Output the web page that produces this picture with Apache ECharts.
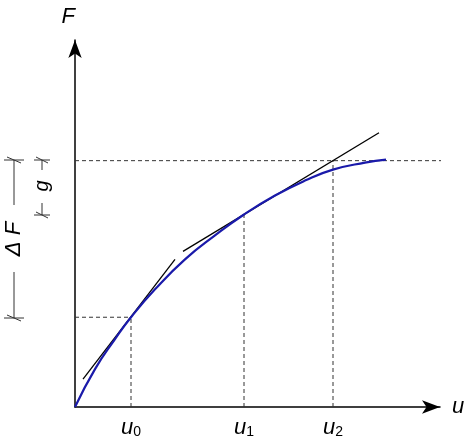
<!DOCTYPE html>
<html><head><meta charset="utf-8">
<script src="https://cdn.jsdelivr.net/npm/echarts@6/dist/echarts.min.js"></script>
<style>html,body{margin:0;background:#fff}#c{width:474px;height:439px}</style>
</head><body><div id="c"></div>
<script>
// curve F(u)
var curve = [[0,0],[20,38],[40,68],[56,90],[80,118],[110,148],[140,172],[169,193],[200,212],[230,227],[258,238],[290,245],[311,248]];
var tangent0 = [[8,28],[100,148]];
var tangent1 = [[108,156],[304,275]];
var uTicks = [56, 169, 258];
var uNames = ['0', '1', '2'];
var F0 = 90, F1 = 193, Fg = 247;

var dash = {color: '#333', width: 1, type: [4, 3]};
function dashed(pts) {
  return {type: 'line', data: pts, showSymbol: false, silent: true, lineStyle: dash, z: 1};
}

var chart = echarts.init(document.getElementById('c'));
chart.setOption({
  animation: false,
  grid: {left: 75, right: 34, top: 40, bottom: 31},
  xAxis: {
    type: 'value', min: 0, max: 365,
    axisLine: {lineStyle: {color: '#000', width: 1.5}, symbol: ['none', 'arrow'], symbolSize: [10, 18]},
    axisTick: {show: false}, splitLine: {show: false},
    name: 'u', nameGap: 12,
    nameTextStyle: {fontSize: 22, fontStyle: 'italic', color: '#000', fontFamily: 'Liberation Sans', verticalAlign: 'middle'},
    axisLabel: {
      customValues: uTicks, margin: 10,
      formatter: function (v) { return '{u|u}{s|' + uNames[uTicks.indexOf(v)] + '}'; },
      rich: {
        u: {fontSize: 22, fontStyle: 'italic', color: '#000', fontFamily: 'Liberation Sans'},
        s: {fontSize: 14, color: '#000', fontFamily: 'Liberation Sans', verticalAlign: 'bottom', padding: [8, 0, 0, 0]}
      }
    }
  },
  yAxis: {
    type: 'value', min: 0, max: 368,
    axisLine: {lineStyle: {color: '#000', width: 1.5}, symbol: ['none', 'arrow'], symbolSize: [10, 18]},
    axisTick: {show: false}, splitLine: {show: false}, axisLabel: {show: false},
    name: 'F', nameGap: 12, nameLocation: 'end',
    nameTextStyle: {fontSize: 22, fontStyle: 'italic', color: '#000', fontFamily: 'Liberation Sans', align: 'right', padding: [0, 0, 0, 0]}
  },
  graphic: [
    // ΔF span
    {type: 'line', shape: {x1: 14, y1: 160, x2: 14, y2: 205}, style: {stroke: '#333', lineWidth: 1}},
    {type: 'line', shape: {x1: 14, y1: 272, x2: 14, y2: 318}, style: {stroke: '#333', lineWidth: 1}},
    {type: 'line', shape: {x1: 7, y1: 157, x2: 21, y2: 163}, style: {stroke: '#333', lineWidth: 1}},
    {type: 'line', shape: {x1: 7, y1: 315, x2: 21, y2: 321}, style: {stroke: '#333', lineWidth: 1}},
    {type: 'line', shape: {x1: 4, y1: 160, x2: 24, y2: 160}, style: {stroke: '#333', lineWidth: 1}},
    {type: 'line', shape: {x1: 4, y1: 318, x2: 24, y2: 318}, style: {stroke: '#333', lineWidth: 1}},
    {type: 'text', x: 14, y: 239, rotation: Math.PI / 2,
     style: {text: 'Δ F', fontSize: 22, fontStyle: 'italic', fill: '#000', fontFamily: 'Liberation Sans', align: 'center', verticalAlign: 'middle'}},
    // g span
    {type: 'line', shape: {x1: 42, y1: 160, x2: 42, y2: 170}, style: {stroke: '#333', lineWidth: 1}},
    {type: 'line', shape: {x1: 42, y1: 203, x2: 42, y2: 215}, style: {stroke: '#333', lineWidth: 1}},
    {type: 'line', shape: {x1: 34, y1: 160, x2: 50, y2: 160}, style: {stroke: '#333', lineWidth: 1}},
    {type: 'line', shape: {x1: 34, y1: 215, x2: 50, y2: 215}, style: {stroke: '#333', lineWidth: 1}},
    {type: 'line', shape: {x1: 36, y1: 157, x2: 48, y2: 163}, style: {stroke: '#333', lineWidth: 1}},
    {type: 'line', shape: {x1: 36, y1: 212, x2: 48, y2: 218}, style: {stroke: '#333', lineWidth: 1}},
    {type: 'text', x: 42, y: 186, rotation: Math.PI / 2,
     style: {text: 'g', fontSize: 20, fontStyle: 'italic', fill: '#000', fontFamily: 'Liberation Sans', align: 'center', verticalAlign: 'middle'}}
  ],
  series: [
    dashed([[0, F0], [uTicks[0], F0]]),
    dashed([[uTicks[0], 0], [uTicks[0], F0]]),
    dashed([[uTicks[1], 0], [uTicks[1], F1]]),
    dashed([[uTicks[2], 0], [uTicks[2], Fg]]),
    dashed([[0, Fg], [370, Fg]]),
    {type: 'line', data: tangent0, showSymbol: false, lineStyle: {color: '#000', width: 1.3}, z: 2},
    {type: 'line', data: tangent1, showSymbol: false, lineStyle: {color: '#000', width: 1.3}, z: 2},
    {type: 'line', data: curve, smooth: true, showSymbol: false, lineStyle: {color: '#1a1aaa', width: 2.2}, z: 3}
  ]
});
</script></body></html>
